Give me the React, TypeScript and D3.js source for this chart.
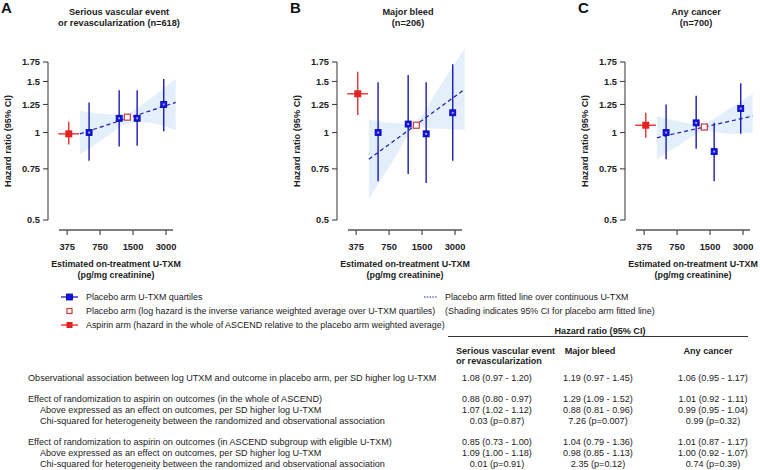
import React from "react";
import * as d3 from "d3";

// ---------- DATA ----------
const panelLetters = ["A", "B", "C"];
const panelTitles = [
  ["Serious vascular event", "or revascularization (n=618)"],
  ["Major bleed", "(n=206)"],
  ["Any cancer", "(n=700)"],
];
const xTicks = [375, 750, 1500, 3000];
const yTicks = [0.5, 0.75, 1, 1.25, 1.5, 1.75];

const quartileX = [595, 1120, 1635, 2860];
const quartileHR = [
  [1.0, 1.12, 1.12, 1.25],
  [1.0, 1.07, 0.99, 1.17],
  [1.0, 1.08, 0.86, 1.21],
];
const quartileLo = [
  [0.8, 0.895, 0.9, 1.01],
  [0.68, 0.72, 0.67, 0.8],
  [0.81, 0.88, 0.68, 0.99],
];
const quartileHi = [
  [1.27, 1.4, 1.4, 1.53],
  [1.49, 1.58, 1.49, 1.72],
  [1.25, 1.34, 1.08, 1.48],
];

const pooledX = 1330;
const pooledHR = [1.13, 1.06, 1.045];

const aspirinX = 388;
const aspirinXLo = 311;
const aspirinXHi = 481;
const aspirinHR = [0.99, 1.36, 1.06];
const aspirinLo = [0.91, 1.15, 0.96];
const aspirinHi = [1.09, 1.62, 1.17];

const fitX = [490, 3680];
const fitHR = [
  [0.99, 1.27],
  [0.81, 1.41],
  [0.96, 1.14],
];

const bandX = [490, 800, 1300, 2100, 3680];
const bandLo = [
  [0.84, 0.95, 1.07, 1.08, 1.02],
  [0.59, 0.79, 1.03, 1.03, 1.02],
  [0.81, 0.91, 1.01, 0.99, 1.0],
];
const bandHi = [
  [1.19, 1.16, 1.16, 1.3, 1.53],
  [1.11, 1.08, 1.09, 1.41, 1.95],
  [1.14, 1.09, 1.075, 1.19, 1.36],
];

const legendLeft = [
  "Placebo arm U-TXM quartiles",
  "Placebo arm (log hazard is the inverse variance weighted average over U-TXM quartiles)",
  "Aspirin arm (hazard in the whole of ASCEND relative to the placebo arm weighted average)",
];
const legendRight = [
  "Placebo arm fitted line over continuous U-TXM",
  "(Shading indicates 95% CI for placebo arm fitted line)",
];

const tableHeader = "Hazard ratio (95% CI)";
const colHeaders = [
  ["Serious vascular event", "or revascularization"],
  ["Major bleed"],
  ["Any cancer"],
];
const rowLabels = [
  "Observational association between log UTXM and outcome in placebo arm, per SD higher log U-TXM",
  "Effect of randomization to aspirin on outcomes (in the whole of ASCEND)",
  "Above expressed as an effect on outcomes, per SD higher log U-TXM",
  "Chi-squared for heterogeneity between the randomized and observational association",
  "Effect of randomization to aspirin on outcomes (in ASCEND subgroup with eligible U-TXM)",
  "Above expressed as an effect on outcomes, per SD higher log U-TXM",
  "Chi-squared for heterogeneity between the randomized and observational association",
];
const rowIndent = [0, 0, 1, 1, 0, 1, 1];
const col1Vals = [
  "1.08 (0.97 - 1.20)",
  "0.88 (0.80 - 0.97)",
  "1.07 (1.02 - 1.12)",
  "0.03 (p=0.87)",
  "0.85 (0.73 - 1.00)",
  "1.09 (1.00 - 1.18)",
  "0.01 (p=0.91)",
];
const col2Vals = [
  "1.19 (0.97 - 1.45)",
  "1.29 (1.09 - 1.52)",
  "0.88 (0.81 - 0.96)",
  "7.26 (p=0.007)",
  "1.04 (0.79 - 1.36)",
  "0.98 (0.85 - 1.13)",
  "2.35 (p=0.12)",
];
const col3Vals = [
  "1.06 (0.95 - 1.17)",
  "1.01 (0.92 - 1.11)",
  "0.99 (0.95 - 1.04)",
  "0.99 (p=0.32)",
  "1.01 (0.87 - 1.17)",
  "1.00 (0.92 - 1.07)",
  "0.74 (p=0.39)",
];

// ---------- STYLE / LAYOUT ----------
const W = 760;
const H = 470;
const FONT = "Liberation Sans, Arial, Helvetica, sans-serif";
const BLUE = "#1a1ab4";
const BLUE_FILL = "#1414e0";
const RED = "#e52222";
const OPEN_RED = "#cc3b3b";
const BAND = "#e4effc";
const TEXT = "#222";
const panelOrigins = [48, 337, 625];
const rowY = [377.5, 399, 409.7, 420.4, 442, 452.7, 463.4];
const colCenters = [497, 598, 713];

function Panel({ i }: { i: number }) {
  const ox = panelOrigins[i];
  const x = d3.scaleLog().domain([316, 3475]).range([ox + 11, ox + 125]);
  const y = d3.scaleLog().domain([0.5, 1.75]).range([220, 62]);

  const bandData = bandX.map((bx, k) => ({ x: bx, lo: bandLo[i][k], hi: bandHi[i][k] }));
  const area = d3
    .area<{ x: number; lo: number; hi: number }>()
    .x((d) => x(d.x))
    .y0((d) => y(d.lo))
    .y1((d) => y(d.hi))
    .curve(d3.curveCatmullRom.alpha(0.5));
  const line = d3
    .line<[number, number]>()
    .x((d) => x(d[0]))
    .y((d) => y(d[1]));
  const fitPts: [number, number][] = fitX.map((fx, k) => [fx, fitHR[i][k]]);

  const [x0, x1] = x.range();
  const axisY = 230;
  const sq = 6;

  return (
    <g fontFamily={FONT}>
      <text x={ox - 47} y={13} fontSize={15} fontWeight="bold" fill="#111">
        {panelLetters[i]}
      </text>
      {panelTitles[i].map((t, k) => (
        <text
          key={k}
          x={ox + 71}
          y={14.5 + k * 11}
          fontSize={9.2}
          fontWeight="bold"
          textAnchor="middle"
          fill={TEXT}
        >
          {t}
        </text>
      ))}
      <path d={area(bandData) || ""} fill={BAND} />
      <line x1={ox} x2={ox} y1={y(1.75)} y2={y(0.5)} stroke="#333" strokeWidth={1} />
      {yTicks.map((t) => (
        <g key={t}>
          <line x1={ox - 5} x2={ox} y1={y(t)} y2={y(t)} stroke="#333" strokeWidth={1} />
          <text
            x={ox - 8}
            y={y(t) + 3.3}
            fontSize={9.3}
            fontWeight="bold"
            textAnchor="end"
            fill={TEXT}
          >
            {String(t)}
          </text>
        </g>
      ))}
      <text
        transform={`translate(${ox - 37},141) rotate(-90)`}
        fontSize={9.2}
        fontWeight="bold"
        textAnchor="middle"
        fill={TEXT}
      >
        Hazard ratio (95% CI)
      </text>
      <line x1={x0} x2={x1} y1={axisY} y2={axisY} stroke="#555" strokeWidth={1.3} />
      {xTicks.map((t) => (
        <g key={t}>
          <line x1={x(t)} x2={x(t)} y1={axisY} y2={axisY + 5} stroke="#555" strokeWidth={1.3} />
          <text
            x={x(t)}
            y={250}
            fontSize={9.3}
            fontWeight="bold"
            textAnchor="middle"
            fill={TEXT}
          >
            {t}
          </text>
        </g>
      ))}
      <text x={ox + 68} y={266.5} fontSize={8.9} fontWeight="bold" textAnchor="middle" fill={TEXT}>
        Estimated on-treatment U-TXM
      </text>
      <text x={ox + 68} y={278} fontSize={8.9} fontWeight="bold" textAnchor="middle" fill={TEXT}>
        (pg/mg creatinine)
      </text>
      <path d={line(fitPts) || ""} fill="none" stroke={BLUE} strokeWidth={1.2} strokeDasharray="4 3" />
      {quartileX.map((qx, k) => (
        <line
          key={"ci" + k}
          x1={x(qx)}
          x2={x(qx)}
          y1={y(quartileLo[i][k])}
          y2={y(quartileHi[i][k])}
          stroke={BLUE}
          strokeWidth={1.4}
        />
      ))}
      <line
        x1={x(aspirinX)}
        x2={x(aspirinX)}
        y1={y(aspirinLo[i])}
        y2={y(aspirinHi[i])}
        stroke={RED}
        strokeWidth={1.3}
      />
      <line
        x1={x(aspirinXLo)}
        x2={x(aspirinXHi)}
        y1={y(aspirinHR[i])}
        y2={y(aspirinHR[i])}
        stroke={RED}
        strokeWidth={1.3}
      />
      <rect
        x={x(aspirinX) - 3.5}
        y={y(aspirinHR[i]) - 3.5}
        width={7}
        height={7}
        fill={RED}
      />
      {quartileX.map((qx, k) => (
        <g key={"sq" + k}>
          <rect
            x={x(qx) - sq / 2}
            y={y(quartileHR[i][k]) - sq / 2}
            width={sq}
            height={sq}
            fill={BLUE_FILL}
            stroke="#0000a8"
            strokeWidth={0.8}
          />
          <rect
            x={x(qx) - 0.9}
            y={y(quartileHR[i][k]) - 0.9}
            width={1.8}
            height={1.8}
            fill="#b8b8ff"
          />
        </g>
      ))}
      <rect
        x={x(pooledX) - 3}
        y={y(pooledHR[i]) - 3}
        width={6}
        height={6}
        fill="white"
        stroke={OPEN_RED}
        strokeWidth={1.2}
      />
    </g>
  );
}

function Legend() {
  const rows = [297, 311, 325];
  return (
    <g fontFamily={FONT} fontSize={8.9} fill={TEXT}>
      <line x1={61} x2={78} y1={rows[0]} y2={rows[0]} stroke={BLUE} strokeWidth={1.3} />
      <rect x={66.5} y={rows[0] - 3} width={6} height={6} fill={BLUE_FILL} stroke="#0000a8" strokeWidth={0.8} />
      <rect x={67} y={rows[1] - 2.5} width={5} height={5} fill="white" stroke={OPEN_RED} strokeWidth={1.2} />
      <line x1={61} x2={78} y1={rows[2]} y2={rows[2]} stroke={RED} strokeWidth={1.3} />
      <rect x={66.5} y={rows[2] - 3} width={6} height={6} fill={RED} />
      {legendLeft.map((t, k) => (
        <text key={k} x={86} y={rows[k] + 3.2}>
          {t}
        </text>
      ))}
      <line
        x1={424}
        x2={438}
        y1={rows[0]}
        y2={rows[0]}
        stroke={BLUE}
        strokeWidth={1}
        strokeDasharray="1.5 1.3"
      />
      {legendRight.map((t, k) => (
        <text key={k} x={445} y={rows[k] + 3.2}>
          {t}
        </text>
      ))}
    </g>
  );
}

function Table() {
  const cols = [col1Vals, col2Vals, col3Vals];
  return (
    <g fontFamily={FONT} fontSize={9.1} fill={TEXT}>
      <text x={600} y={333.5} fontWeight="bold" textAnchor="middle">
        {tableHeader}
      </text>
      <line x1={448} x2={748} y1={336.5} y2={336.5} stroke="#333" strokeWidth={1} />
      {colHeaders[0].map((t, k) => (
        <text key={"h0" + k} x={456} y={353.5 + k * 10.5} fontWeight="bold">
          {t}
        </text>
      ))}
      {colHeaders[1].map((t, k) => (
        <text key={"h1" + k} x={590} y={353.5 + k * 10.5} fontWeight="bold" textAnchor="middle">
          {t}
        </text>
      ))}
      {colHeaders[2].map((t, k) => (
        <text key={"h2" + k} x={708} y={353.5 + k * 10.5} fontWeight="bold" textAnchor="middle">
          {t}
        </text>
      ))}
      {rowLabels.map((t, r) => (
        <text key={"l" + r} x={rowIndent[r] ? 40 : 28} y={rowY[r] + 3.3}>
          {t}
        </text>
      ))}
      {cols.map((vals, c) =>
        vals.map((v, r) => (
          <text key={"v" + c + "-" + r} x={colCenters[c]} y={rowY[r] + 3.3} textAnchor="middle">
            {v}
          </text>
        ))
      )}
    </g>
  );
}

export default function App() {
  return (
    <svg
      width={W}
      height={H}
      viewBox={`0 0 ${W} ${H}`}
      style={{ position: "absolute", left: 0, top: 0, background: "white" }}
    >
      <rect width={W} height={H} fill="white" />
      {[0, 1, 2].map((i) => (
        <Panel key={i} i={i} />
      ))}
      <Legend />
      <Table />
    </svg>
  );
}
